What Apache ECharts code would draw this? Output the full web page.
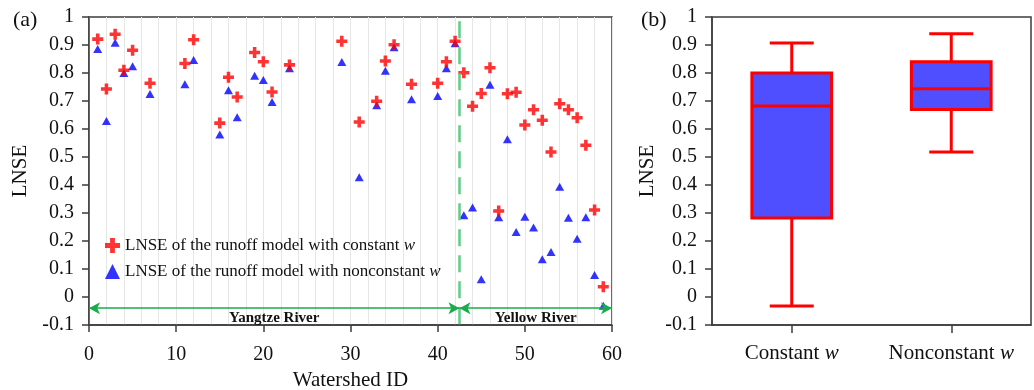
<!DOCTYPE html>
<html>
<head>
<meta charset="utf-8">
<script src="https://cdn.jsdelivr.net/npm/echarts@6/dist/echarts.min.js"></script>
<style>
  html, body { margin: 0; padding: 0; background: #fff; }
  #chart { width: 1034px; height: 390px; }
</style>
</head>
<body>
<div id="chart"></div>
<script>
// watershed IDs and LNSE values
var watershedIds = [1, 2, 3, 4, 5, 7, 11, 12, 15, 16, 17, 19, 20, 21, 23, 29, 31, 33, 34, 35, 37, 40, 41, 42,
  43, 44, 45, 46, 47, 48, 49, 50, 51, 52, 53, 54, 55, 56, 57, 58, 59];
var lnseConstant = [0.921, 0.743, 0.938, 0.81, 0.881, 0.763, 0.834, 0.919, 0.621, 0.785, 0.714, 0.873, 0.84, 0.732,
  0.829, 0.913, 0.625, 0.699, 0.843, 0.901, 0.76, 0.763, 0.84, 0.913,
  0.801, 0.681, 0.727, 0.819, 0.307, 0.726, 0.731, 0.614, 0.669, 0.631, 0.518, 0.69, 0.669, 0.64, 0.542, 0.311, 0.037];
var lnseNonconstant = [0.886, 0.629, 0.908, 0.80, 0.824, 0.725, 0.76, 0.846, 0.58, 0.738, 0.642, 0.79, 0.775, 0.696,
  0.817, 0.839, 0.428, 0.685, 0.808, 0.892, 0.706, 0.718, 0.817, 0.906,
  0.292, 0.32, 0.063, 0.758, 0.285, 0.563, 0.232, 0.287, 0.248, 0.135, 0.161, 0.394, 0.283, 0.208, 0.285, 0.079, -0.031];

// river split (between ID 42 and 43) and the arrow level
var riverBoundary = 42.5;
var arrowLevel = -0.04;
var xMax = 60;

// box plot panel (b): [min, Q1, median, Q3, max]
var boxCategories = ['Constant w', 'Nonconstant w'];
var constantBox = [-0.032, 0.282, 0.682, 0.8, 0.907];
var nonconstantBox = [0.518, 0.67, 0.744, 0.84, 0.94];

var nameConst = 'LNSE of the runoff model with constant w';
var nameNonconst = 'LNSE of the runoff model with nonconstant w';

var serif = '"Liberation Serif", "DejaVu Serif", serif';
var axisColor = '#3c3c3c';
var plusPath = 'path://M3.4,0H6.6V3.4H10V6.6H6.6V10H3.4V6.6H0V3.4H3.4Z';

var chart = echarts.init(document.getElementById('chart'));

function italicW(v) {
  return '{n|' + v.slice(0, -1) + '}{i|w}';
}

var yAxisCommon = {
  type: 'value',
  min: -0.1,
  max: 1,
  interval: 0.1,
  name: 'LNSE',
  nameLocation: 'middle',
  nameTextStyle: { fontFamily: serif, fontSize: 21, color: '#111' },
  axisLine: { show: true, lineStyle: { color: axisColor, width: 1.5 } },
  axisTick: { show: true, inside: false, length: 7, lineStyle: { color: axisColor, width: 1.5 } },
  axisLabel: { fontFamily: serif, fontSize: 20, color: '#111', margin: 15 },
  splitLine: { show: false }
};

var option = {
  animation: false,
  title: [
    { text: '(a)', left: 8, top: 4, textStyle: { fontFamily: serif, fontSize: 22, fontWeight: 'normal', color: '#111' } },
    { text: '(b)', left: 636, top: 4, textStyle: { fontFamily: serif, fontSize: 22, fontWeight: 'normal', color: '#111' } }
  ],
  grid: [
    { left: 89, right: 422, top: 17, bottom: 65, outerBoundsMode: 'none', show: true, borderColor: axisColor, borderWidth: 1.5, backgroundColor: 'transparent' },
    { left: 712, right: 3, top: 17, bottom: 65, outerBoundsMode: 'none', show: true, borderColor: axisColor, borderWidth: 1.5, backgroundColor: 'transparent' }
  ],
  legend: {
    data: [nameConst, nameNonconst],
    orient: 'vertical',
    left: 100,
    top: 232,
    itemWidth: 15,
    itemHeight: 15,
    itemGap: 9,
    selectedMode: false,
    formatter: italicW,
    textStyle: {
      fontFamily: serif,
      fontSize: 17,
      color: '#111',
      rich: {
        n: { fontFamily: serif, fontSize: 17, color: '#111' },
        i: { fontFamily: serif, fontSize: 17, color: '#111', fontStyle: 'italic' }
      }
    }
  },
  xAxis: [
    {
      type: 'value',
      gridIndex: 0,
      min: 0,
      max: xMax,
      interval: 10,
      name: 'Watershed ID',
      nameLocation: 'middle',
      nameGap: 44,
      nameTextStyle: { fontFamily: serif, fontSize: 21, color: '#111' },
      axisLine: { show: true, onZero: false, lineStyle: { color: axisColor, width: 1.5 } },
      axisTick: { show: true, inside: false, length: 7, lineStyle: { color: axisColor, width: 1.5 } },
      axisLabel: { fontFamily: serif, fontSize: 20, color: '#111', margin: 20 },
      splitLine: { show: true, lineStyle: { color: '#e6e6e6', width: 1 } },
      minorTick: { show: false, splitNumber: 5 },
      minorSplitLine: { show: true, lineStyle: { color: '#e6e6e6', width: 1 } }
    },
    {
      type: 'category',
      gridIndex: 1,
      data: boxCategories,
      boundaryGap: true,
      axisLine: { show: true, onZero: false, lineStyle: { color: axisColor, width: 1.5 } },
      axisTick: { show: true, alignWithLabel: true, inside: false, length: 8, lineStyle: { color: axisColor, width: 1.5 } },
      axisLabel: {
        interval: 0,
        fontFamily: serif, fontSize: 21, color: '#111', margin: 18,
        formatter: italicW,
        rich: {
          n: { fontFamily: serif, fontSize: 21, color: '#111' },
          i: { fontFamily: serif, fontSize: 21, color: '#111', fontStyle: 'italic' }
        }
      },
      splitLine: { show: false }
    }
  ],
  yAxis: [
    Object.assign({}, yAxisCommon, { gridIndex: 0, nameGap: 53 }),
    Object.assign({}, yAxisCommon, { gridIndex: 1, nameGap: 54 })
  ],
  series: [
    {
      // boundary line and river arrows
      type: 'line',
      xAxisIndex: 0,
      yAxisIndex: 0,
      data: [],
      silent: true,
      markLine: {
        silent: true,
        animation: false,
        data: [
          [
            { coord: [riverBoundary, 0.985], symbol: 'none', lineStyle: { color: '#5fcd85', width: 2.5, type: [17, 9] }, label: { show: false } },
            { coord: [riverBoundary, -0.1], symbol: 'none' }
          ],
          [
            { coord: [0, arrowLevel], lineStyle: { color: '#1aab4a', width: 1.5, type: 'solid' },
              label: { show: true, formatter: 'Yangtze River', position: 'insideMiddleBottom', distance: 2,
                fontFamily: serif, fontSize: 15, fontWeight: 'bold', color: '#111' } },
            { coord: [riverBoundary, arrowLevel] }
          ],
          [
            { coord: [riverBoundary, arrowLevel], lineStyle: { color: '#1aab4a', width: 1.5, type: 'solid' },
              label: { show: true, formatter: 'Yellow River', position: 'insideMiddleBottom', distance: 2,
                fontFamily: serif, fontSize: 15, fontWeight: 'bold', color: '#111' } },
            { coord: [xMax, arrowLevel] }
          ]
        ],
        symbol: ['arrow', 'arrow'],
        symbolSize: [9, 11]
      }
    },
    {
      name: nameNonconst,
      type: 'scatter',
      xAxisIndex: 0,
      yAxisIndex: 0,
      symbol: 'triangle',
      symbolSize: [9, 8],
      itemStyle: { color: '#0000ff' },
      data: watershedIds.map(function (id, i) { return [id, lnseNonconstant[i]]; })
    },
    {
      name: nameConst,
      type: 'scatter',
      xAxisIndex: 0,
      yAxisIndex: 0,
      symbol: plusPath,
      symbolSize: 11,
      itemStyle: { color: '#ff0000' },
      data: watershedIds.map(function (id, i) { return [id, lnseConstant[i]]; })
    },
    {
      type: 'custom',
      xAxisIndex: 1,
      yAxisIndex: 1,
      silent: true,
      encode: { x: 0, y: [1, 2, 3, 4, 5] },
      data: [[0].concat(constantBox), [1].concat(nonconstantBox)],
      renderItem: function (params, api) {
        var c = api.value(0);
        var pMin = api.coord([c, api.value(1)]);
        var pQ1 = api.coord([c, api.value(2)]);
        var pMed = api.coord([c, api.value(3)]);
        var pQ3 = api.coord([c, api.value(4)]);
        var pMax = api.coord([c, api.value(5)]);
        var band = api.size([1, 0])[0];
        var bw = band * 0.25;
        var cw = band * 0.138;
        var x = pMed[0];
        var red = { stroke: '#ff0000', lineWidth: 3, fill: null };
        return {
          type: 'group',
          children: [
            { type: 'line', shape: { x1: x, y1: pQ1[1], x2: x, y2: pMin[1] }, style: red },
            { type: 'line', shape: { x1: x, y1: pQ3[1], x2: x, y2: pMax[1] }, style: red },
            { type: 'line', shape: { x1: x - cw, y1: pMin[1], x2: x + cw, y2: pMin[1] }, style: red },
            { type: 'line', shape: { x1: x - cw, y1: pMax[1], x2: x + cw, y2: pMax[1] }, style: red },
            { type: 'rect', shape: { x: x - bw, y: pQ3[1], width: bw * 2, height: pQ1[1] - pQ3[1] },
              style: { fill: '#4f4fff', stroke: '#ff0000', lineWidth: 3 } },
            { type: 'line', shape: { x1: x - bw, y1: pMed[1], x2: x + bw, y2: pMed[1] }, style: red }
          ]
        };
      }
    }
  ]
};

chart.setOption(option);
</script>
</body>
</html>
